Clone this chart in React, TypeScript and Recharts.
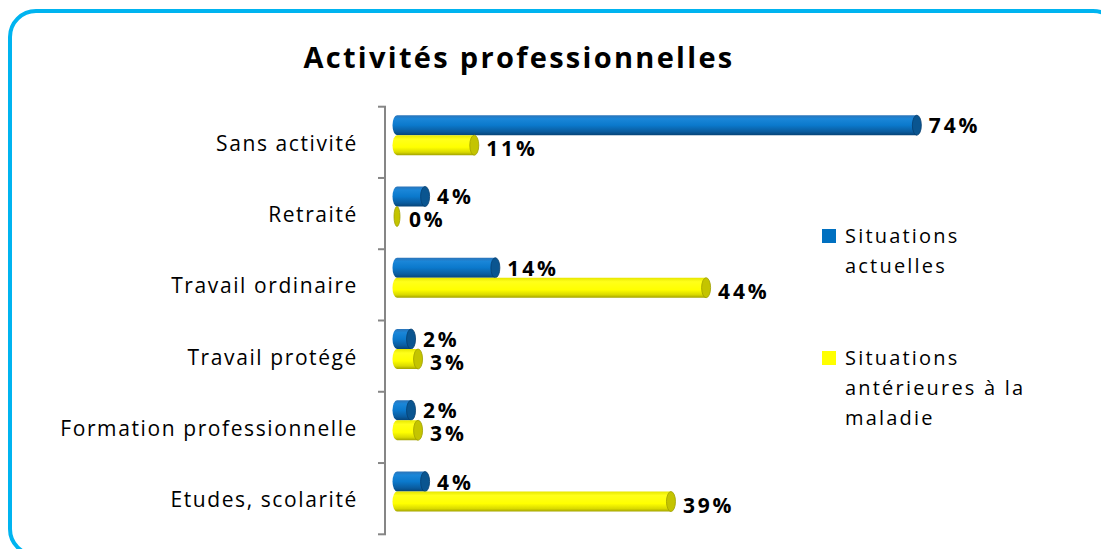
import { Bar, BarChart, LabelList, Legend, XAxis, YAxis } from "recharts";

const categories = [
  "Sans activité",
  "Retraité",
  "Travail ordinaire",
  "Travail protégé",
  "Formation professionnelle",
  "Etudes, scolarité",
];
const actuelles = [74, 4, 14, 2, 2, 4];
const anterieures = [11, 0, 44, 3, 3, 39];
const valueTicks = [0, 80];

const seriesNames = {
  actuelles: "Situations actuelles",
  anterieures: "Situations antérieures à la maladie",
};

const data = categories.map((label, i) => ({
  label,
  actuelles: actuelles[i],
  anterieures: anterieures[i],
}));

const FONT = "'Open Sans', 'DejaVu Sans', sans-serif";
const AXIS_GREY = "#868686";
// Excel draws the 3d bars a little above the category centre
const SHIFT = 7.5;

type Palette = { id: string; stops: [number, string][]; cap: string; capEdge: string; swatch: string };

const bluePalette: Palette = {
  id: "cylBlue",
  stops: [
    [0, "#2C74B8"],
    [0.18, "#1A86D8"],
    [0.5, "#0B79CC"],
    [0.82, "#0A5C9F"],
    [1, "#064478"],
  ],
  cap: "#0A5590",
  capEdge: "#063F70",
  swatch: "#0070C0",
};

const yellowPalette: Palette = {
  id: "cylYellow",
  stops: [
    [0, "#E6E600"],
    [0.2, "#FFFF1A"],
    [0.6, "#FFFF00"],
    [0.85, "#DADA00"],
    [1, "#A3A300"],
  ],
  cap: "#C4C400",
  capEdge: "#A0A000",
  swatch: "#FFFF00",
};

function makeCylinder(p: Palette) {
  return (props: any) => {
    const { x, y, width, height } = props;
    if (height == null || x == null) return <g />;
    const ry = height / 2;
    const rx = 4.5;
    const cy = y + ry;
    const end = x + Math.max(width, 0);
    return (
      <g>
        <defs>
          <linearGradient id={p.id} x1="0" y1="0" x2="0" y2="1">
            {p.stops.map(([o, c]) => (
              <stop key={o} offset={o} stopColor={c} />
            ))}
          </linearGradient>
        </defs>
        {width > 0 ? (
          <path
            d={`M ${x} ${y} L ${end} ${y} L ${end} ${y + height} L ${x} ${y + height} A ${rx} ${ry} 0 0 1 ${x} ${y} Z`}
            fill={`url(#${p.id})`}
          />
        ) : null}
        <ellipse cx={end} cy={cy} rx={width > 0 ? rx : 3} ry={ry} fill={p.cap} stroke={p.capEdge} strokeWidth={0.8} />
      </g>
    );
  };
}

function ValueLabel(props: any) {
  const { x, y, width, height, value, dy = 0 } = props;
  return (
    <text
      x={x + width + 12}
      y={y + height / 2 + 8 + dy}
      fontFamily={FONT}
      fontSize={21}
      fontWeight={700}
      letterSpacing={2.8}
      fill="#000"
    >
      {value}%
    </text>
  );
}

function CategoryTick(props: any) {
  const { x, y, payload, index, visibleTicksCount } = props;
  const half = payload?.offset || 35.6;
  const top = y - half + SHIFT;
  const bottom = y + half + SHIFT;
  const axisX = x - 12;
  const last = index === visibleTicksCount - 1;
  return (
    <g>
      <line x1={axisX} x2={axisX} y1={top} y2={bottom} stroke={AXIS_GREY} strokeWidth={2} />
      <line x1={axisX - 7} x2={axisX + 1} y1={top} y2={top} stroke={AXIS_GREY} strokeWidth={2} />
      {last ? (
        <line x1={axisX - 7} x2={axisX + 1} y1={bottom} y2={bottom} stroke={AXIS_GREY} strokeWidth={2} />
      ) : null}
      <text
        x={x - 39}
        y={y + SHIFT + 8.5}
        textAnchor="end"
        fontFamily={FONT}
        fontSize={21}
        letterSpacing={1.6}
        fill="#000"
      >
        {payload.value}
      </text>
    </g>
  );
}

function LegendBox(props: any) {
  const items = props.payload || [];
  return (
    <div style={{ fontFamily: FONT, fontSize: 20, letterSpacing: 2.2, lineHeight: "30px", color: "#000" }}>
      {items.map((it: any, i: number) => (
        <div key={it.value} style={{ display: "flex", alignItems: "flex-start", marginTop: i === 0 ? 0 : 62 }}>
          <div style={{ width: 14, height: 14, marginTop: 8, background: it.color, flex: "none" }} />
          <div style={{ marginLeft: 9, width: 210 }}>{it.value}</div>
        </div>
      ))}
    </div>
  );
}

export default function App() {
  return (
    <div style={{ position: "relative", width: 1101, height: 541, overflow: "hidden", background: "#fff" }}>
      <div
        style={{
          position: "absolute",
          left: 0,
          top: 1,
          width: 1113,
          height: 548,
          boxSizing: "border-box",
          border: "4px solid #00B4F0",
          borderRadius: 28,
        }}
      />
      <div
        style={{
          position: "absolute",
          left: 0,
          top: 34,
          width: 1022,
          textAlign: "center",
          fontFamily: FONT,
          fontSize: 29,
          fontWeight: 700,
          lineHeight: "29px",
          letterSpacing: 2.3,
        }}
      >
        Activités professionnelles
      </div>
      <div style={{ position: "absolute", left: 0, top: 0 }}>
        <BarChart
          width={1101}
          height={541}
          data={data}
          layout="vertical"
          margin={{ top: 91.2, right: 150, bottom: 22.2, left: 0 }}
          barSize={20}
          barGap={0}
        >
          <XAxis type="number" domain={[valueTicks[0], valueTicks[1]]} hide />
          <YAxis
            type="category"
            dataKey="label"
            width={389}
            axisLine={false}
            tickLine={false}
            tickSize={0}
            tickMargin={0}
            interval={0}
            tick={<CategoryTick />}
          />
          <Legend
            layout="vertical"
            align="center"
            verticalAlign="middle"
            content={<LegendBox />}
            wrapperStyle={{ left: 814, top: 213, width: 250 }}
          />
          <Bar
            dataKey="actuelles"
            name={seriesNames.actuelles}
            fill={bluePalette.swatch}
            shape={makeCylinder(bluePalette)}
            isAnimationActive={false}
          >
            <LabelList dataKey="actuelles" content={<ValueLabel dy={0} />} />
          </Bar>
          <Bar
            dataKey="anterieures"
            name={seriesNames.anterieures}
            fill={yellowPalette.swatch}
            shape={makeCylinder(yellowPalette)}
            isAnimationActive={false}
          >
            <LabelList dataKey="anterieures" content={<ValueLabel dy={3} />} />
          </Bar>
        </BarChart>
      </div>
    </div>
  );
}
